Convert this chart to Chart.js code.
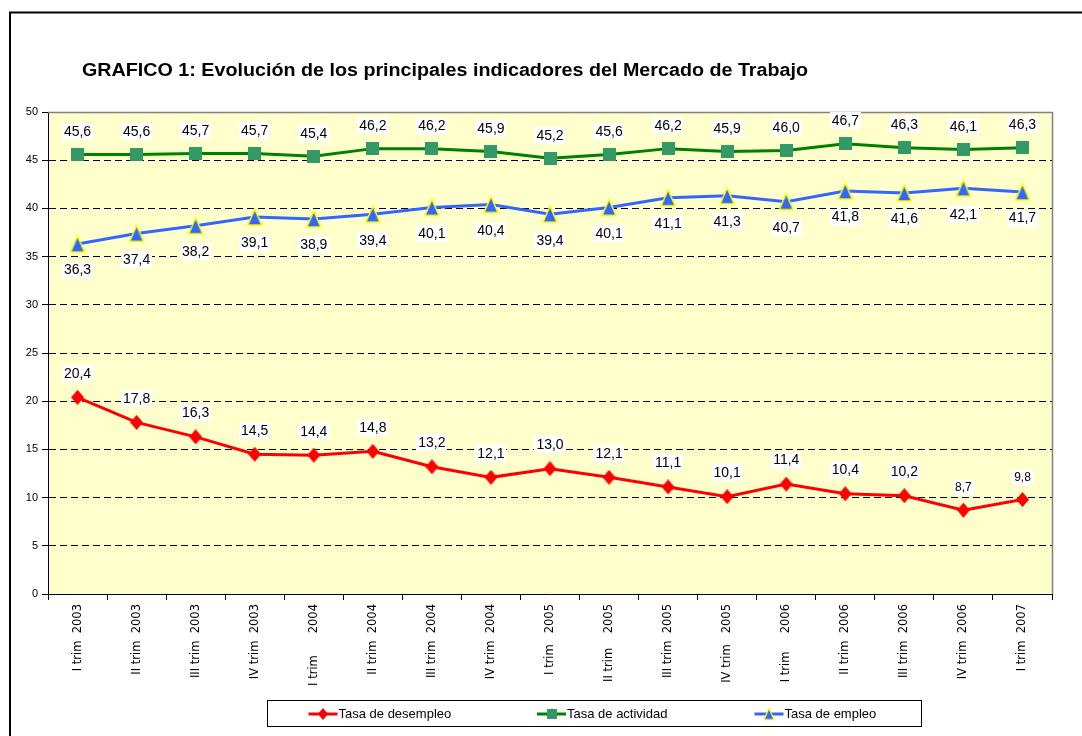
<!DOCTYPE html>
<html>
<head>
<meta charset="utf-8">
<script src="https://cdn.jsdelivr.net/npm/chart.js@4/dist/chart.umd.min.js"></script>
<style>
  html, body { margin: 0; padding: 0; background: #ffffff; }
  #wrap { width: 1082px; height: 736px; position: relative; }
</style>
</head>
<body>
<div id="wrap"><canvas id="c" width="1082" height="736"></canvas></div>
<script>
// ---------- DATA ----------
const chartTitle = 'GRAFICO 1: Evolución de los principales indicadores del Mercado de Trabajo';
const categories = [
  'I trim  2003', 'II trim  2003', 'III trim  2003', 'IV trim  2003',
  'I trim      2004', 'II trim  2004', 'III trim  2004', 'IV trim  2004',
  'I trim   2005', 'II trim    2005', 'III trim  2005', 'IV trim   2005',
  'I trim     2006', 'II trim  2006', 'III trim  2006', 'IV trim  2006',
  'I trim  2007'
];
const seriesNames = ['Tasa de desempleo', 'Tasa de actividad', 'Tasa de empleo'];
const desempleo = [20.4, 17.8, 16.3, 14.5, 14.4, 14.8, 13.2, 12.1, 13.0, 12.1, 11.1, 10.1, 11.4, 10.4, 10.2, 8.7, 9.8];
const actividad = [45.6, 45.6, 45.7, 45.7, 45.4, 46.2, 46.2, 45.9, 45.2, 45.6, 46.2, 45.9, 46.0, 46.7, 46.3, 46.1, 46.3];
const empleo    = [36.3, 37.4, 38.2, 39.1, 38.9, 39.4, 40.1, 40.4, 39.4, 40.1, 41.1, 41.3, 40.7, 41.8, 41.6, 42.1, 41.7];
const yTicks = { min: 0, max: 50, step: 5 };

// ---------- STYLE ----------
const FONT = "'Liberation Sans', Arial, sans-serif";
const colors = { red: '#FF0000', green: '#008000', greenMarker: '#339966', blue: '#3366FF', yellow: '#FFFF00' };

function makeMarker(kind, w, h, fill, stroke, lw) {
  const pad = Math.ceil(lw || 0);
  const c = document.createElement('canvas');
  c.width = Math.ceil(w + pad * 2);
  c.height = Math.ceil(h + pad * 2);
  const g = c.getContext('2d');
  const ox = (c.width - w) / 2, oy = (c.height - h) / 2;
  g.beginPath();
  if (kind === 'diamond') {
    g.moveTo(ox + w / 2, oy); g.lineTo(ox + w, oy + h / 2); g.lineTo(ox + w / 2, oy + h); g.lineTo(ox, oy + h / 2);
  } else if (kind === 'square') {
    g.rect(ox, oy, w, h);
  } else {
    g.moveTo(ox + w / 2, oy); g.lineTo(ox + w, oy + h); g.lineTo(ox, oy + h);
  }
  g.closePath();
  g.fillStyle = fill; g.fill();
  if (lw) { g.lineWidth = lw; g.strokeStyle = stroke; g.lineJoin = 'miter'; g.stroke(); }
  return c;
}

const mkDiamond = makeMarker('diamond', 13, 15, colors.red, null, 0);
const mkSquare = makeMarker('square', 13, 13, colors.greenMarker, colors.greenMarker, 0);
const mkTriangle = makeMarker('triangle', 14, 16, colors.blue, colors.yellow, 1.5);
const lgDiamond = makeMarker('diamond', 10, 12, colors.red, null, 0);
const lgSquare = makeMarker('square', 10, 10, colors.greenMarker, colors.greenMarker, 0);
const lgTriangle = makeMarker('triangle', 10, 11, colors.blue, colors.yellow, 1.2);

// label placement (offset of label centre from point, px) and font size per point
const labelOffset = [-24, -23, 26];
const smallLabelIdx = { 0: [15, 16] };

const fmt = v => v.toFixed(1).replace('.', ',');

const framePlugin = {
  id: 'framePlugin',
  beforeDraw(chart) {
    const { ctx, chartArea: a } = chart;
    ctx.save();
    ctx.fillStyle = '#FFFFCC';
    ctx.fillRect(a.left, a.top, a.right - a.left, a.bottom - a.top);
    ctx.restore();
  },
  beforeDatasetsDraw(chart) {
    const { ctx, chartArea: a } = chart;
    ctx.save();
    ctx.strokeStyle = '#808080';
    ctx.lineWidth = 1.5;
    ctx.beginPath();
    ctx.moveTo(a.left, a.top + 0.5); ctx.lineTo(a.right + 0.5, a.top + 0.5); ctx.lineTo(a.right + 0.5, a.bottom);
    ctx.stroke();
    ctx.restore();
  },
  afterDraw(chart) {
    const ctx = chart.ctx;
    ctx.save();
    // outer frame
    ctx.strokeStyle = '#000';
    ctx.lineWidth = 2;
    ctx.beginPath();
    ctx.moveTo(10, 736); ctx.lineTo(10, 12.5); ctx.lineTo(1082, 12.5);
    ctx.stroke();
    // title
    ctx.fillStyle = '#000';
    ctx.font = 'bold 18px ' + FONT;
    ctx.textBaseline = 'alphabetic';
    ctx.textAlign = 'left';
    const tw = ctx.measureText(chartTitle).width;
    ctx.save();
    ctx.translate(82, 76);
    ctx.scale(726 / tw, 1);
    ctx.fillText(chartTitle, 0, 0);
    ctx.restore();
    // legend
    ctx.fillStyle = '#fff';
    ctx.fillRect(267.5, 700.5, 654, 26);
    ctx.strokeStyle = '#000';
    ctx.lineWidth = 1;
    ctx.strokeRect(267.5, 700.5, 654, 26);
    const items = [
      { x: 308.5, color: colors.red, mk: lgDiamond },
      { x: 537, color: colors.green, mk: lgSquare },
      { x: 754.5, color: colors.blue, mk: lgTriangle }
    ];
    const ly = 714;
    items.forEach((it, i) => {
      ctx.strokeStyle = it.color;
      ctx.lineWidth = 3;
      ctx.beginPath(); ctx.moveTo(it.x, ly); ctx.lineTo(it.x + 29, ly); ctx.stroke();
      ctx.drawImage(it.mk, it.x + 14.5 - it.mk.width / 2, ly - it.mk.height / 2);
      ctx.fillStyle = '#000';
      ctx.font = '13px ' + FONT;
      ctx.textBaseline = 'middle';
      ctx.fillText(chart.data.datasets[i].label, it.x + 30, ly);
    });
    ctx.restore();
  },
  afterDatasetsDraw(chart) {
    const ctx = chart.ctx;
    ctx.save();
    ctx.textAlign = 'center';
    ctx.textBaseline = 'middle';
    chart.data.datasets.forEach((ds, di) => {
      const meta = chart.getDatasetMeta(di);
      meta.data.forEach((pt, j) => {
        const small = (smallLabelIdx[di] || []).includes(j);
        const size = small ? 12 : 14;
        ctx.font = size + 'px ' + FONT;
        const txt = fmt(ds.data[j]);
        const w = ctx.measureText(txt).width;
        const cy = pt.y + (small ? -22.5 : labelOffset[di]);
        ctx.fillStyle = '#fff';
        ctx.fillRect(Math.round(pt.x - w / 2 - 2), Math.round(cy - size / 2 - 1.5), Math.round(w + 4), size + 3);
        ctx.fillStyle = '#000';
        ctx.fillText(txt, pt.x, cy + 0.5);
      });
    });
    ctx.restore();
  }
};

new Chart(document.getElementById('c'), {
  type: 'line',
  data: {
    labels: categories,
    datasets: [
      { label: seriesNames[0], data: desempleo, borderColor: colors.red, backgroundColor: colors.red, borderWidth: 3, pointStyle: mkDiamond, tension: 0 },
      { label: seriesNames[1], data: actividad, borderColor: colors.green, backgroundColor: colors.greenMarker, borderWidth: 3, pointStyle: mkSquare, tension: 0 },
      { label: seriesNames[2], data: empleo, borderColor: colors.blue, backgroundColor: colors.blue, borderWidth: 3, pointStyle: mkTriangle, tension: 0 }
    ]
  },
  options: {
    responsive: false,
    animation: false,
    devicePixelRatio: 1,
    layout: { padding: { top: 112, right: 30, bottom: 0, left: 0 } },
    plugins: { legend: { display: false }, title: { display: false }, tooltip: { enabled: false } },
    events: [],
    scales: {
      x: {
        offset: true,
        afterFit(scale) { scale.height = 142; },
        grid: { offset: true, drawOnChartArea: false, color: '#000', tickColor: '#000', tickLength: 6 },
        border: { color: '#000', width: 1 },
        ticks: {
          autoSkip: false, minRotation: 90, maxRotation: 90, padding: 4,
          color: '#000', font: { family: "'DejaVu Sans', sans-serif", size: 11.5 }
        }
      },
      y: {
        min: yTicks.min, max: yTicks.max,
        afterFit(scale) { scale.width = 48; },
        grid: {
          color: c => (c.tick && (c.tick.value === yTicks.min || c.tick.value === yTicks.max)) ? 'rgba(0,0,0,0)' : '#000',
          tickColor: '#000',
          tickBorderDash: [],
          tickLength: 6,
          lineWidth: 1
        },
        border: { color: '#000', width: 1, dash: [7, 4] },
        ticks: { stepSize: yTicks.step, padding: 4, color: '#000', font: { family: FONT, size: 11 } }
      }
    }
  },
  plugins: [framePlugin]
});
</script>
</body>
</html>
